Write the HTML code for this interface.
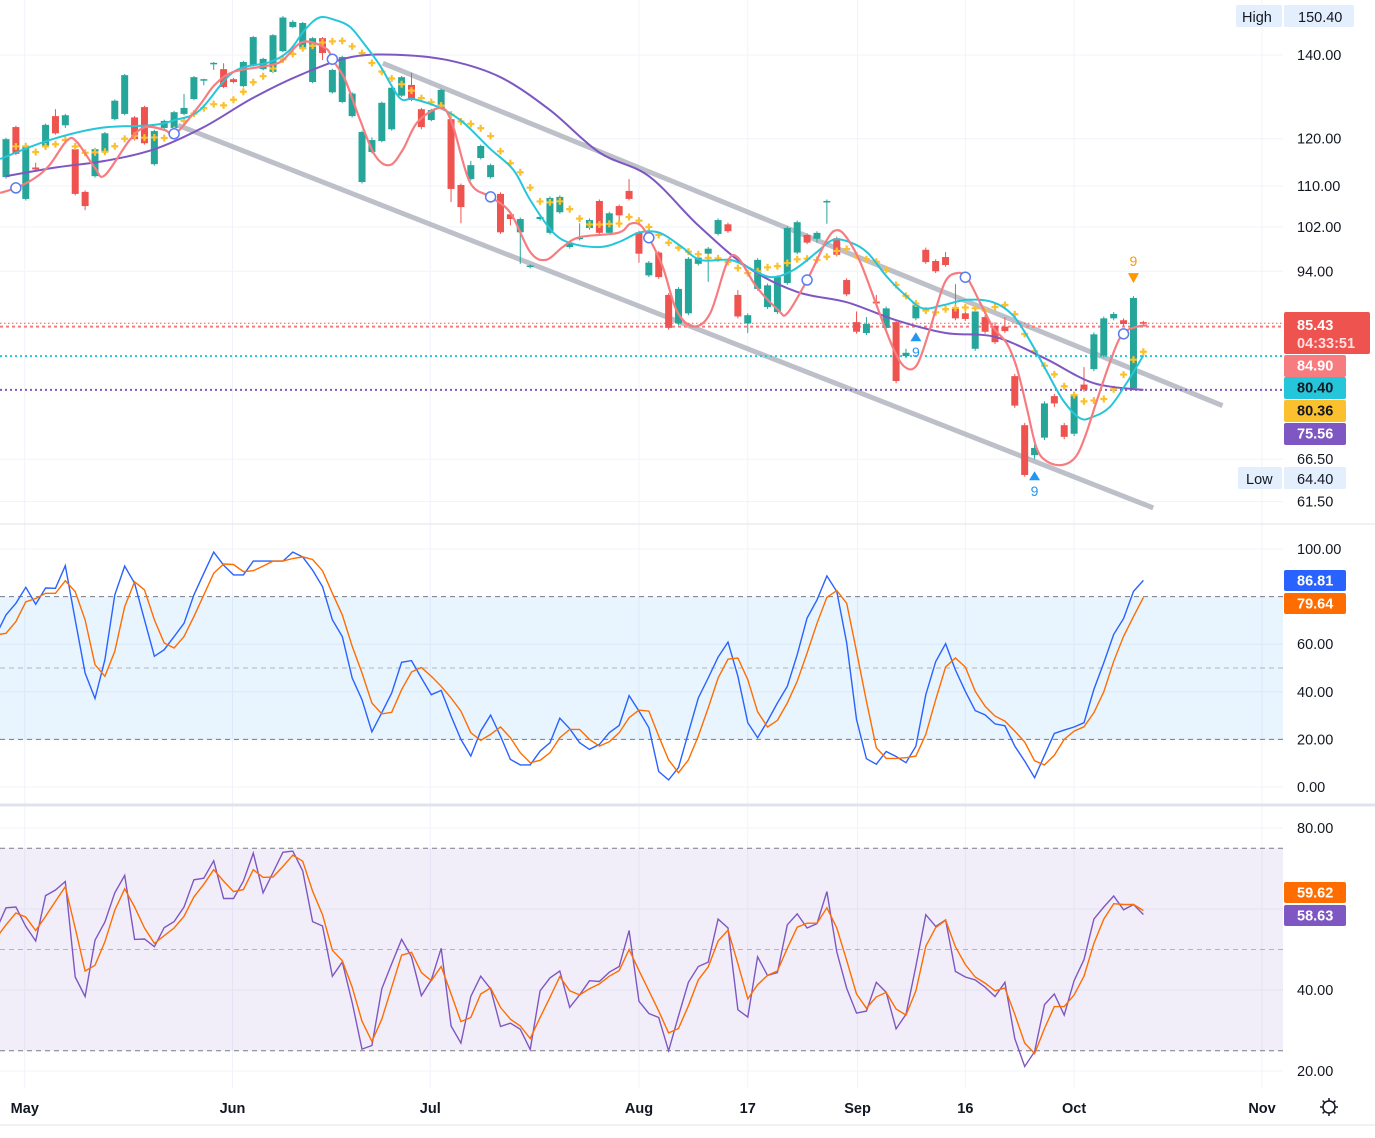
<!DOCTYPE html>
<html><head><meta charset="utf-8"><style>
html,body{margin:0;padding:0;background:#fff;}
svg{display:block;font-family:"Liberation Sans",sans-serif;}
</style></head><body>
<svg id="chart" width="1375" height="1138" viewBox="0 0 1375 1138" xmlns="http://www.w3.org/2000/svg">
<defs>
<clipPath id="clipMain"><rect x="0" y="0" width="1283" height="522"/></clipPath>
<clipPath id="clipP2"><rect x="0" y="525" width="1283" height="279"/></clipPath>
<clipPath id="clipP3"><rect x="0" y="807" width="1283" height="281"/></clipPath>
</defs>
<g id="grid"></g>
<g id="bands"></g>
<g id="main" clip-path="url(#clipMain)"></g>
<g id="p2" clip-path="url(#clipP2)"></g>
<g id="p3" clip-path="url(#clipP3)"></g>
<g id="axes"></g>
</svg>
<script>
// ---------- price data (candles) ----------
const opens=[111.8,122.6,107.4,113.8,118.4,125.1,123.0,117.7,108.8,112.0,117.1,124.4,125.6,124.8,127.2,114.5,122.4,122.4,125.6,129.1,133.7,137.9,136.4,133.9,132.2,137.4,136.4,135.7,141.0,147.4,141.6,133.2,144.4,130.7,128.4,125.1,110.8,117.1,119.5,122.1,129.9,132.5,126.7,124.2,126.9,124.4,110.2,111.4,115.8,111.8,108.4,104.4,101.0,94.8,103.5,100.9,104.8,98.3,99.8,101.8,107.0,100.9,106.0,109.0,101.0,93.3,97.3,90.0,85.4,87.0,95.3,97.1,100.7,102.5,90.0,85.4,91.0,88.0,87.2,92.0,97.3,100.5,99.8,106.9,99.9,92.5,85.6,83.9,88.9,84.7,85.6,80.4,86.2,97.8,95.8,96.5,87.8,87.0,81.5,86.4,85.0,84.9,77.5,70.8,67.0,69.2,74.7,70.8,69.7,76.3,78.5,80.5,86.2,85.9,75.8,85.6];
const highs=[120.2,122.9,118.7,114.8,123.4,126.7,125.6,118.0,109.1,118.0,121.5,129.0,135.2,125.1,127.5,122.0,124.3,126.3,130.3,134.7,134.0,138.2,137.9,134.2,138.5,145.0,139.3,145.5,150.4,149.3,148.8,144.7,144.7,136.5,139.8,130.7,121.8,120.3,128.5,132.1,134.7,135.5,127.0,126.8,131.6,124.7,110.5,115.2,118.7,114.6,108.7,104.7,103.8,95.2,104.2,107.9,108.1,99.4,102.7,103.6,107.3,104.9,106.3,111.4,101.3,95.8,97.6,90.3,91.3,96.5,96.7,98.3,103.6,102.8,90.8,87.0,96.3,91.9,93.3,102.1,103.2,100.8,101.2,107.3,100.2,92.8,87.3,86.4,90.0,88.1,85.9,81.5,88.6,98.2,96.1,97.4,91.8,87.3,87.6,86.7,85.6,86.4,77.8,71.1,68.6,74.0,75.0,71.1,75.2,78.8,84.0,86.5,87.2,86.2,89.8,85.8];
const lows=[111.5,116.4,107.1,113.1,118.1,120.9,122.4,108.1,105.2,111.7,116.8,124.1,125.3,119.6,118.7,114.2,122.1,122.1,125.3,128.8,132.4,136.2,131.7,132.9,131.9,137.1,136.1,135.4,140.7,147.1,141.3,132.9,138.7,130.4,128.1,124.8,110.5,116.8,119.2,121.8,129.6,128.6,122.1,123.9,126.6,106.8,102.7,111.1,115.5,111.5,100.7,102.3,95.3,94.5,103.2,100.6,104.5,98.0,99.5,101.5,100.6,100.6,101.9,107.1,95.5,93.0,92.7,84.4,85.1,86.7,95.0,92.2,100.4,100.9,86.2,83.9,90.7,87.7,86.9,91.7,97.0,98.8,99.1,102.6,96.6,89.8,83.8,83.6,88.3,84.4,76.5,80.1,85.9,95.3,93.7,94.8,85.9,85.8,81.2,83.8,82.2,83.9,73.1,64.4,66.5,68.9,73.2,69.0,69.4,75.3,78.2,80.2,85.9,85.0,75.5,85.2];
const closes=[119.9,116.7,118.4,113.4,123.1,121.2,125.3,108.4,106.0,117.7,121.2,128.7,134.9,119.9,119.0,121.7,124.0,126.0,127.0,134.4,133.9,138.0,132.0,133.2,138.2,144.7,139.0,145.2,150.0,148.8,148.5,144.4,140.5,136.2,139.5,130.4,121.5,119.7,128.2,131.8,134.4,128.9,122.6,126.5,131.3,109.4,105.8,114.3,118.4,114.3,101.0,103.5,103.5,95.0,103.9,107.6,107.8,99.1,100.0,103.3,100.9,104.6,104.2,107.4,97.1,95.5,93.0,84.7,91.0,96.2,96.4,98.0,103.3,101.2,86.5,86.7,96.0,91.6,93.0,101.8,102.9,99.1,100.9,107.0,96.9,90.1,84.1,85.3,88.6,87.8,76.8,80.9,88.3,95.6,94.0,95.1,86.2,86.1,87.3,84.1,82.5,84.2,73.4,64.6,67.9,73.7,73.7,69.3,74.9,75.6,83.7,86.2,86.9,85.3,89.5,85.43];
// ---------- overlay lines, indexed by bar position ----------
const fastIdx=[-0.6,1.0,2.9,4.4,6.2,7.2,9.0,10.0,12.5,14.1,16.1,17.1,19.6,21.1,23.0,26.7,28.0,30.0,32.3,33.1,34.3,35.8,37.3,38.8,40.1,41.6,43.9,45.1,46.9,49.0,51.0,53.0,54.6,56.3,58.0,61.9,63.1,64.1,65.0,66.4,67.8,69.5,71.2,72.9,74.0,75.9,78.1,79.0,81.0,83.0,84.0,85.0,86.4,88.1,89.7,90.9,92.1,93.4,94.9,96.2,97.2,98.5,99.8,101.2,102.2,103.2,104.2,105.3,106.8,108.1,109.1,110.3,111.6,112.8,114.2,115.4];
const fastVal=[108.6,109.6,111.6,114.3,119.7,119.2,113.7,112.2,119.7,122.6,121.9,121.0,127.7,132.5,135.7,137.4,138.7,143.4,141.8,138.5,133.7,124.2,116.4,114.3,117.5,123.7,127.0,123.5,110.8,107.8,104.7,97.4,96.0,98.3,100.1,100.9,102.6,102.4,100.0,94.8,87.5,84.9,87.0,95.5,96.4,91.3,87.5,87.0,92.5,99.6,101.4,100.0,95.5,88.0,81.6,78.8,79.1,84.4,92.0,93.7,92.8,88.7,84.8,82.3,78.7,73.2,67.9,66.2,65.8,66.7,69.3,74.1,79.4,83.6,84.8,85.1];
const midIdx=[-0.6,4.4,9.5,14.6,17.1,19.6,23.0,26.7,28.7,30.2,31.7,33.3,34.8,36.3,37.8,39.8,41.2,43.9,46.2,48.9,51.3,53.0,55.3,57.3,60.1,62.1,64.1,66.1,68.2,70.2,73.2,74.9,77.3,79.6,82.0,83.6,85.3,87.1,89.1,91.1,92.7,94.7,97.2,99.8,101.8,103.5,105.3,106.9,108.6,109.9,111.6,113.3,115.0];
const midVal=[115.6,119.7,122.4,123.0,124.2,126.5,135.7,138.2,141.3,146.6,150.0,149.3,147.4,142.6,137.4,129.4,129.1,127.0,123.7,117.9,113.3,107.2,101.0,98.9,98.3,99.3,101.0,100.9,98.5,96.0,96.0,94.8,93.0,94.2,97.4,99.6,99.2,97.3,93.0,89.7,87.8,88.3,89.2,88.8,86.7,82.8,78.0,74.1,71.7,71.9,73.2,76.5,80.5];
const slowIdx=[0,5,10,15,20,25,30,35,40,45,50,55,60,65,70,75,80,85,90,95,100,105,110,115];
const slowVal=[112.0,113.8,115.2,117.7,122.6,129.4,135.2,139.5,140.0,138.5,134.4,126.5,117.0,112.0,102.3,94.7,90.5,88.8,85.9,83.9,83.3,80.1,76.5,75.56];
const circleBars=[1,17,33,49,65,81,97,113];
const lastValues=[85.43,84.90,80.40,80.36,75.56];
// ---------- oscillator pane 1 (stochastic) ----------
const stochK=[63.9,72.3,77.2,83.9,76.8,83.6,83.5,93.0,70.2,47.9,37.2,53.5,80.7,92.8,85.6,70.2,54.9,57.7,63.2,68.8,80.7,89.8,98.7,93.2,89.1,89.1,94.9,94.9,94.9,94.9,98.7,96.7,91.1,84.2,70.2,63.2,45.8,36.7,23.2,31.2,39.5,52.4,53.1,45.8,38.8,40.6,29.8,20.0,13.0,23.5,30.2,21.4,11.6,9.3,9.3,15.1,18.6,28.9,24.5,18.6,
15.8,17.9,22.8,25.9,38.4,31.9,24.9,6.5,3.0,8.2,22.8,37.4,45.8,54.6,60.9,46.5,27.0,20.7,27.7,35.3,42.3,55.6,71.0,78.6,88.7,82.1,60.5,28.4,11.9,9.6,14.9,12.8,10.2,17.2,38.8,52.7,60.2,49.2,40.2,32.1,30.3,26.5,25.7,17.2,10.9,3.9,13.3,22.5,23.9,25.2,27.0,41.0,52.2,64.1,70.8,82.2,86.81];
const stochD=[63.9,64.6,69.5,77.8,79.2,81.4,81.4,86.7,82.1,70.2,51.4,46.5,57.0,75.8,86.2,82.8,70.2,60.5,58.4,63.2,71.6,80.7,89.8,93.7,93.5,90.5,90.9,92.8,94.9,94.9,96.0,96.7,95.6,90.9,81.4,72.3,59.1,47.9,35.3,30.7,31.4,40.9,48.3,50.2,46.5,42.3,37.4,31.9,22.8,19.6,22.1,25.2,20.7,14.4,10.2,11.2,14.4,20.7,24.2,24.2,
20.0,17.2,19.0,22.8,29.1,32.3,31.9,21.4,11.4,6.0,11.4,21.4,33.2,45.8,53.7,54.2,45.1,31.6,25.2,28.0,35.3,44.4,56.3,68.8,79.7,82.5,77.2,57.0,36.1,16.5,12.0,12.0,12.3,13.0,22.1,36.7,50.4,54.2,50.4,40.2,33.9,29.8,27.7,23.5,18.9,11.0,9.3,13.3,20.0,23.5,25.3,31.2,40.0,52.8,63.3,71.6,79.64];
// ---------- oscillator pane 2 (RSI) ----------
const rsiVal=[54.8,60.3,60.5,55.7,52.1,63.3,64.7,66.8,43.2,38.4,52.3,56.8,64.0,68.3,52.5,52.6,50.7,55.4,56.9,60.5,67.2,67.6,71.9,62.6,62.6,66.9,73.8,64.0,69.0,74.0,74.3,69.4,56.9,55.8,43.4,46.9,36.9,25.4,26.3,40.3,46.5,52.5,48.2,38.6,42.5,50.3,31.1,26.9,38.4,43.4,40.3,31.0,31.8,30.3,25.3,39.8,43.0,44.7,35.7,38.8,
42.3,42.1,44.4,45.8,54.7,37.2,34.2,33.2,25.0,33.6,41.9,45.8,46.9,57.5,55.3,35.1,33.3,48.2,43.6,44.3,56.1,58.8,55.3,56.4,64.3,49.4,40.4,34.3,34.8,41.9,39.4,30.4,34.0,45.9,58.6,55.7,57.3,44.6,43.2,42.5,40.7,38.4,41.9,28.0,21.1,24.8,36.4,39.0,33.8,42.3,47.5,57.5,60.5,63.2,59.8,61.1,58.63];
const rsiMa=[52.8,56.1,59.0,58.0,54.7,58.2,61.9,65.5,55.3,44.7,46.1,51.9,59.7,65.0,60.5,55.3,51.5,53.4,55.3,58.2,63.0,66.1,69.7,66.9,64.3,64.8,69.7,67.8,67.9,70.5,73.3,71.8,64.4,58.6,49.8,47.2,40.7,32.3,27.3,32.8,40.7,48.6,49.3,44.3,42.3,45.8,39.0,32.2,33.2,39.0,40.5,35.7,32.8,31.1,28.0,33.2,38.2,43.3,39.8,38.8,
40.3,41.5,43.4,44.8,50.0,44.8,39.8,34.8,29.4,30.5,36.1,42.5,45.7,52.1,54.8,46.5,37.8,41.3,43.6,44.7,50.3,55.5,56.5,56.5,60.3,55.3,47.3,39.0,35.5,38.3,39.4,35.3,33.8,39.8,50.8,55.4,57.2,50.7,46.3,43.2,41.7,39.8,40.5,34.0,26.9,24.3,30.5,35.9,35.9,38.8,43.4,51.5,57.5,61.3,61.1,61.1,59.62];
// ---------- axis ticks ----------
const priceTicks=[140,120,110,102,94,66.5,61.5];
const stochTicks=[100,60,40,20,0];
const rsiTicks=[80,40,20];
const timeLabels=["May","Jun","Jul","Aug","17","Sep","16","Oct","Nov"];
const timeBars=[1.9,22.9,42.9,64.0,75.0,86.1,97.0,108.0,127.0];

// ---------- scales ----------
const NS="http://www.w3.org/2000/svg";
const X0=6, STEP=9.89;
function xBar(i){return X0+STEP*i;}
function yPrice(p){return 55+(Math.log(140)-Math.log(p))*543;}
function yStoch(v){return 787-v*2.38;}
function yRsi(v){return 828+(80-v)*4.05;}
function mk(tag,attrs,parent){const e=document.createElementNS(NS,tag);for(const k in attrs)e.setAttribute(k,attrs[k]);if(parent)parent.appendChild(e);return e;}
function smoothPath(pts){
  let d="M"+pts[0][0].toFixed(1)+","+pts[0][1].toFixed(1);
  for(let i=0;i<pts.length-1;i++){
    const p0=pts[Math.max(0,i-1)],p1=pts[i],p2=pts[i+1],p3=pts[Math.min(pts.length-1,i+2)];
    const c1=[p1[0]+(p2[0]-p0[0])/6,p1[1]+(p2[1]-p0[1])/6];
    const c2=[p2[0]-(p3[0]-p1[0])/6,p2[1]-(p3[1]-p1[1])/6];
    d+=" C"+c1[0].toFixed(1)+","+c1[1].toFixed(1)+" "+c2[0].toFixed(1)+","+c2[1].toFixed(1)+" "+p2[0].toFixed(1)+","+p2[1].toFixed(1);
  }
  return d;
}
function interp(ix,vals,i){
  for(let k=0;k<ix.length-1;k++){if(i>=ix[k]&&i<=ix[k+1]){const t=(i-ix[k])/(ix[k+1]-ix[k]);return vals[k]+t*(vals[k+1]-vals[k]);}}
  return vals[vals.length-1];
}
const grid=document.getElementById('grid');
const bands=document.getElementById('bands');
const main=document.getElementById('main');
const p2=document.getElementById('p2');
const p3=document.getElementById('p3');
const axes=document.getElementById('axes');

// vertical grid lines
timeBars.forEach(function(b){
  const l=mk('line',{x1:xBar(b),x2:xBar(b),y1:0,y2:1088,stroke:'#f0f3fa','stroke-width':1},grid);
  
  
});
priceTicks.forEach(function(p){
  const l=mk('line',{x1:0,x2:1283,y1:yPrice(p),y2:yPrice(p),stroke:'#f0f3fa'},grid);
  
  
});
stochTicks.forEach(function(v){
  const l=mk('line',{x1:0,x2:1283,y1:yStoch(v),y2:yStoch(v),stroke:'#f0f3fa'},grid);
  
  
});
[80,60,40,20].forEach(function(v){
  const l=mk('line',{x1:0,x2:1283,y1:yRsi(v),y2:yRsi(v),stroke:'#f0f3fa'},grid);
  
  
});

// bands
(function(){
  const b1=mk('rect',{x:0,y:yStoch(80),width:1283,height:yStoch(20)-yStoch(80),fill:'rgba(33,150,243,0.1)'},bands);
  
  
  [[80,'#787b86','5,4'],[50,'#b2b5be','5,4'],[20,'#787b86','5,4']].forEach(function(a){
    const l=mk('line',{x1:0,x2:1283,y1:yStoch(a[0]),y2:yStoch(a[0]),stroke:a[1],'stroke-dasharray':a[2]},bands);
    
    
  });
  const b2=mk('rect',{x:0,y:yRsi(75),width:1283,height:yRsi(25)-yRsi(75),fill:'rgba(126,87,194,0.1)'},bands);
  
  
  [[75,'#787b86'],[50,'#b2b5be'],[25,'#787b86']].forEach(function(a){
    const l=mk('line',{x1:0,x2:1283,y1:yRsi(a[0]),y2:yRsi(a[0]),stroke:a[1],'stroke-dasharray':'5,4'},bands);
    
    
  });
})();

// channel trend lines
const channels=[[38.1,137.9,123.0,73.4],[17.4,123.0,116.0,60.8]];
channels.forEach(function(c){
  const l=mk('line',{x1:xBar(c[0]),y1:yPrice(c[1]),x2:xBar(c[2]),y2:yPrice(c[3]),stroke:'#b2b5be','stroke-width':5,'stroke-opacity':0.85},main);
  
  
});

// horizontal last-value lines
[[lastValues[0],'#ef5350','1.5,2.5'],[lastValues[1],'#f77c80','3,3'],[lastValues[2],'#26c6da','2,3'],[lastValues[4],'#7e57c2','2,3']].forEach(function(a){
  const l=mk('line',{x1:0,x2:1283,y1:yPrice(a[0]),y2:yPrice(a[0]),stroke:a[1],'stroke-width':a[0]===lastValues[0]?1:2,'stroke-dasharray':a[2]},main);
  
  
});

// candles
for(let i=0;i<closes.length;i++){
  const up=closes[i]>=opens[i];
  const col=up?'#26a69a':'#ef5350';
  const x=xBar(i);
  const g=mk('g',{},main);
  
  
  mk('line',{x1:x,x2:x,y1:yPrice(highs[i]),y2:yPrice(lows[i]),stroke:col,'stroke-width':1},g);
  const top=yPrice(Math.max(opens[i],closes[i])),bot=yPrice(Math.min(opens[i],closes[i]));
  mk('rect',{x:x-3.5,y:top,width:7,height:Math.max(1.5,bot-top),fill:col},g);
}

// SMA-10 plus markers
for(let i=0;i<closes.length;i++){
  if(i<1)continue;
  const n=Math.min(10,i+1);let s=0;for(let k=i-n+1;k<=i;k++)s+=closes[k];
  const v=s/n, x=xBar(i), y=yPrice(v);
  const pl=mk('path',{d:'M'+(x-3.5)+','+y+'h7M'+x+','+(y-3.5)+'v7',stroke:'#fbc02d','stroke-width':2.2},main);
  
  
}

// MA lines
function drawLine(ix,vals,color,name,w){
  const pts=ix.map(function(i,k){return [xBar(i),yPrice(vals[k])];});
  const p=mk('path',{d:smoothPath(pts),fill:'none',stroke:color,'stroke-width':w},main);
  
  
}
drawLine(slowIdx,slowVal,'#7e57c2','slow-ma-line',2);
drawLine(midIdx,midVal,'#26c6da','mid-ma-line',2);
drawLine(fastIdx,fastVal,'#f77c80','fast-ma-line',2.2);

// circle markers
circleBars.forEach(function(b){
  const c=mk('circle',{cx:xBar(b),cy:yPrice(interp(fastIdx,fastVal,b)),r:5,fill:'#fff',stroke:'#5b7cf0','stroke-width':1.5},main);
  
  
});

// sequential markers
const seqBars=[92,104,114];
const seqDir=[1,1,-1];
seqBars.forEach(function(b,k){
  const x=xBar(b);
  if(seqDir[k]>0){
    const y=yPrice(lows[b])+12;
    const t=mk('path',{d:'M'+(x-5.5)+','+(y+9)+'L'+x+','+y+'L'+(x+5.5)+','+(y+9)+'Z',fill:'#2196f3'},main);
    
    
    const tx=mk('text',{x:x,y:y+25,'text-anchor':'middle','font-size':14,fill:'#2196f3'},main);
    tx.textContent='9';
    
    
  } else {
    const y=yPrice(highs[b])-22;
    const t=mk('path',{d:'M'+(x-5.5)+','+(y-1)+'L'+x+','+(y+9)+'L'+(x+5.5)+','+(y-1)+'Z',fill:'#ff9800'},main);
    
    
    const tx=mk('text',{x:x,y:y-8,'text-anchor':'middle','font-size':14,fill:'#ff9800'},main);
    tx.textContent='9';
    
    
  }
});

// oscillator lines
function xOsc(j){return xBar(j-1);}
function oscLine(vals,yf,color,name,parent){
  const d=vals.map(function(v,j){return (j?'L':'M')+xOsc(j).toFixed(1)+','+yf(v).toFixed(1);}).join('');
  const p=mk('path',{d:d,fill:'none',stroke:color,'stroke-width':1.4},parent);
  
  
}
oscLine(stochK,yStoch,'#2962ff','stoch-k-line',p2);
oscLine(stochD,yStoch,'#ff6d00','stoch-d-line',p2);
oscLine(rsiVal,yRsi,'#7e57c2','rsi-line',p3);
oscLine(rsiMa,yRsi,'#ff6d00','rsi-ma-line',p3);

// separators
[[524,'#e0e3eb',1],[805,'#e0e3eb',3],[1125,'#e0e3eb',1]].forEach(function(a){
  const l=mk('line',{x1:0,x2:1375,y1:a[0],y2:a[0],stroke:a[1],'stroke-width':a[2]},axes);
  
  
});

function label(txt,x,y,name,opts){
  const t=mk('text',Object.assign({x:x,y:y,'font-size':14.5,fill:'#131722'},opts||{}),axes);
  t.textContent=txt;
  
  
  return t;
}
priceTicks.forEach(function(p){label(p.toFixed(2),1297,yPrice(p)+5,'price-tick-label');});
stochTicks.forEach(function(v){label(v.toFixed(2),1297,yStoch(v)+5,'stoch-tick-label');});
rsiTicks.forEach(function(v){label(v.toFixed(2),1297,yRsi(v)+5,'rsi-tick-label');});
timeLabels.forEach(function(t,k){label(t,xBar(timeBars[k]),1113,'time-label',{'text-anchor':'middle','font-weight':'bold',fill:'#131722'});});

function box(txt,y,h,bg,fg,name,w){
  const r=mk('rect',{x:1284,y:y,width:w||62,height:h,fill:bg,rx:2},axes);
  
  
  const t=mk('text',{x:1297,y:y+15.5,'font-size':14.5,fill:fg,'font-weight':'bold'},axes);
  t.textContent=txt;
  
  
  return t;
}
// High / Low
(function(){
  const r1=mk('rect',{x:1236,y:5,width:46,height:22,fill:'#e3effd',rx:2},axes);
  
  
  label('High',1242,22,'high-tag',{fill:'#131722'});
  const r2=mk('rect',{x:1284,y:5,width:70,height:22,fill:'#e3effd',rx:2},axes);
  
  
  label(Math.max.apply(null,highs).toFixed(2),1298,22,'high-value');
  const r3=mk('rect',{x:1238,y:467,width:44,height:22,fill:'#e3effd',rx:2},axes);
  
  
  label('Low',1246,484,'low-tag');
  const r4=mk('rect',{x:1284,y:467,width:62,height:22,fill:'#e3effd',rx:2},axes);
  
  
  label(Math.min.apply(null,lows).toFixed(2),1297,484,'low-value');
})();
// last price box with countdown
(function(){
  const r=mk('rect',{x:1284,y:312,width:86,height:42,fill:'#ef5350',rx:2},axes);
  
  
  label(lastValues[0].toFixed(2),1297,330,'last-price',{fill:'#fff','font-weight':'bold'});
  label('04:33:51',1297,348,'countdown',{fill:'#fde0e0','font-weight':'bold'});
})();
box(lastValues[1].toFixed(2),355,22,'#f77c80','#fff','fast-ma-value');
box(lastValues[2].toFixed(2),377,22,'#26c6da','#131722','mid-ma-value');
box(lastValues[3].toFixed(2),400,22,'#fbc02d','#131722','sma-value');
box(lastValues[4].toFixed(2),423,22,'#7e57c2','#fff','slow-ma-value');
box(stochK[stochK.length-1].toFixed(2),570,21,'#2962ff','#fff','stoch-k-value');
box(stochD[stochD.length-1].toFixed(2),593,21,'#ff6d00','#fff','stoch-d-value');
box(rsiMa[rsiMa.length-1].toFixed(2),882,21,'#ff6d00','#fff','rsi-ma-value');
box(rsiVal[rsiVal.length-1].toFixed(2),905,21,'#7e57c2','#fff','rsi-value');

// settings gear
(function(){
  const g=mk('g',{transform:'translate(1329,1107)'},axes);
  
  
  mk('circle',{cx:0,cy:0,r:6,fill:'none',stroke:'#131722','stroke-width':1.5},g);
  for(let a=0;a<8;a++){const r=a*Math.PI/4;mk('line',{x1:6*Math.cos(r),y1:6*Math.sin(r),x2:9*Math.cos(r),y2:9*Math.sin(r),stroke:'#131722','stroke-width':1.5},g);}
})();
</script>
</body></html>
